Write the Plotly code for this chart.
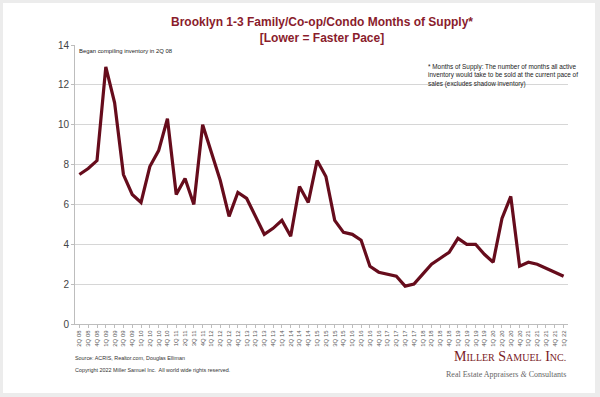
import plotly.graph_objects as go

quarters = [
    "2Q 08", "3Q 08", "4Q 08",
    "1Q 09", "2Q 09", "3Q 09", "4Q 09",
    "1Q 10", "2Q 10", "3Q 10", "4Q 10",
    "1Q 11", "2Q 11", "3Q 11", "4Q 11",
    "1Q 12", "2Q 12", "3Q 12", "4Q 12",
    "1Q 13", "2Q 13", "3Q 13", "4Q 13",
    "1Q 14", "2Q 14", "3Q 14", "4Q 14",
    "1Q 15", "2Q 15", "3Q 15", "4Q 15",
    "1Q 16", "2Q 16", "3Q 16", "4Q 16",
    "1Q 17", "2Q 17", "3Q 17", "4Q 17",
    "1Q 18", "2Q 18", "3Q 18", "4Q 18",
    "1Q 19", "2Q 19", "3Q 19", "4Q 19",
    "1Q 20", "2Q 20", "3Q 20", "4Q 20",
    "1Q 21", "2Q 21", "3Q 21", "4Q 21",
    "1Q 22",
]

months_of_supply = [
    7.5, 7.8, 8.2,
    12.9, 11.1, 7.5, 6.5,
    6.1, 7.9, 8.7, 10.3,
    6.5, 7.3, 6.0, 10.0,
    8.6, 7.2, 5.4, 6.6,
    6.3, 5.4, 4.5, 4.8,
    5.2, 4.4, 6.9, 6.1,
    8.2, 7.4, 5.2, 4.6,
    4.5, 4.2, 2.9, 2.6,
    2.5, 2.4, 1.9, 2.0,
    2.5, 3.0, 3.3, 3.6,
    4.3, 4.0, 4.0, 3.5,
    3.1, 5.3, 6.4, 2.9,
    3.1, 3.0, 2.8, 2.6,
    2.4,
]

y_ticks = [0, 2, 4, 6, 8, 10, 12, 14]

MAROON = "#660c1c"
TITLE_RED = "#8a1c2c"

fig = go.Figure()
fig.add_trace(go.Scatter(
    x=quarters, y=months_of_supply, mode="lines",
    line=dict(color=MAROON, width=3.2),
    hoverinfo="x+y", showlegend=False,
))

# plot area in pixels: x 75..568, y 45..324
L, R, T, B = 75, 568, 45, 324
W, H = R - L, B - T


def px_x(x):
    return (x - L) / W


def px_y(y):
    return (B - y) / H


fig.update_layout(
    width=600, height=397,
    margin=dict(l=L, r=600 - R, t=T, b=397 - B, autoexpand=False),
    paper_bgcolor="#ececec",
    plot_bgcolor="white",
    font=dict(family="Liberation Sans, Arial, sans-serif", color="#333333"),
    title=dict(
        text="Brooklyn 1-3 Family/Co-op/Condo Months of Supply*<br>[Lower = Faster Pace]",
        x=322 / 600, xanchor="center", y=1 - 26 / 397, yanchor="middle",
        font=dict(size=12, color=TITLE_RED, family="Liberation Sans, Arial, sans-serif", weight="bold"),
    ),
    xaxis=dict(
        type="category", range=[-0.5, len(quarters) - 0.5],
        tickangle=-90, tickfont=dict(size=6, color="#555555"),
        showline=True, linecolor="#bdbdbd", linewidth=1,
        ticks="outside", ticklen=3, tickcolor="#bdbdbd",
        showgrid=False, fixedrange=True, automargin=False,
    ),
    yaxis=dict(
        range=[0, 14], tickvals=y_ticks,
        tickfont=dict(size=10, color="#444444"),
        showline=True, linecolor="#bdbdbd", linewidth=1,
        ticks="outside", ticklen=3, tickcolor="#bdbdbd",
        gridcolor="#d6d6d6", gridwidth=1, zeroline=False,
        fixedrange=True, automargin=False,
    ),
    shapes=[dict(
        type="rect", xref="paper", yref="paper", layer="below",
        x0=px_x(3), x1=px_x(595), y0=px_y(393), y1=px_y(3),
        fillcolor="white", line=dict(width=0),
    )],
)

fig.add_annotation(
    xref="paper", yref="paper", x=px_x(77), y=px_y(51),
    xanchor="left", yanchor="middle", showarrow=False,
    text="Began compiling inventory in 2Q 08",
    font=dict(size=5.9, color="#222222", family="Liberation Sans, Arial, sans-serif"),
)
fig.add_annotation(
    xref="paper", yref="paper", x=px_x(426), y=px_y(61),
    xanchor="left", yanchor="top", showarrow=False, align="left",
    text="* Months of Supply: The number of months all active<br>"
         "inventory would take to be sold at the current pace of<br>"
         "sales (excludes shadow inventory)",
    font=dict(size=6.4, color="#222222", family="Liberation Sans, Arial, sans-serif"),
)
fig.add_annotation(
    xref="paper", yref="paper", x=px_x(73), y=px_y(358),
    xanchor="left", yanchor="middle", showarrow=False,
    text="Source: ACRIS, Realtor.com, Douglas Elliman",
    font=dict(size=5.4, color="#333333", family="Liberation Sans, Arial, sans-serif"),
)
fig.add_annotation(
    xref="paper", yref="paper", x=px_x(73), y=px_y(370),
    xanchor="left", yanchor="middle", showarrow=False,
    text="Copyright 2022 Miller Samuel Inc.  All world wide rights reserved.",
    font=dict(size=5.4, color="#333333", family="Liberation Sans, Arial, sans-serif"),
)
fig.add_annotation(
    xref="paper", yref="paper", x=px_x(568), y=px_y(357),
    xanchor="right", yanchor="middle", showarrow=False,
    text="M<span style='font-size:10px'>ILLER</span> S<span style='font-size:10px'>AMUEL</span> I<span style='font-size:10px'>NC.</span>",
    font=dict(size=14, color="#7a1a26", family="Liberation Serif, DejaVu Serif, serif"),
)
fig.add_annotation(
    xref="paper", yref="paper", x=px_x(568), y=px_y(374),
    xanchor="right", yanchor="middle", showarrow=False,
    text="Real Estate Appraisers <i>&amp;</i> Consultants",
    font=dict(size=8, color="#666666", family="Liberation Serif, DejaVu Serif, serif"),
)

fig.write_html(
    "out.html",
    config={"displayModeBar": False},
    post_script="document.body.style.margin='0';document.body.style.padding='0';",
)
